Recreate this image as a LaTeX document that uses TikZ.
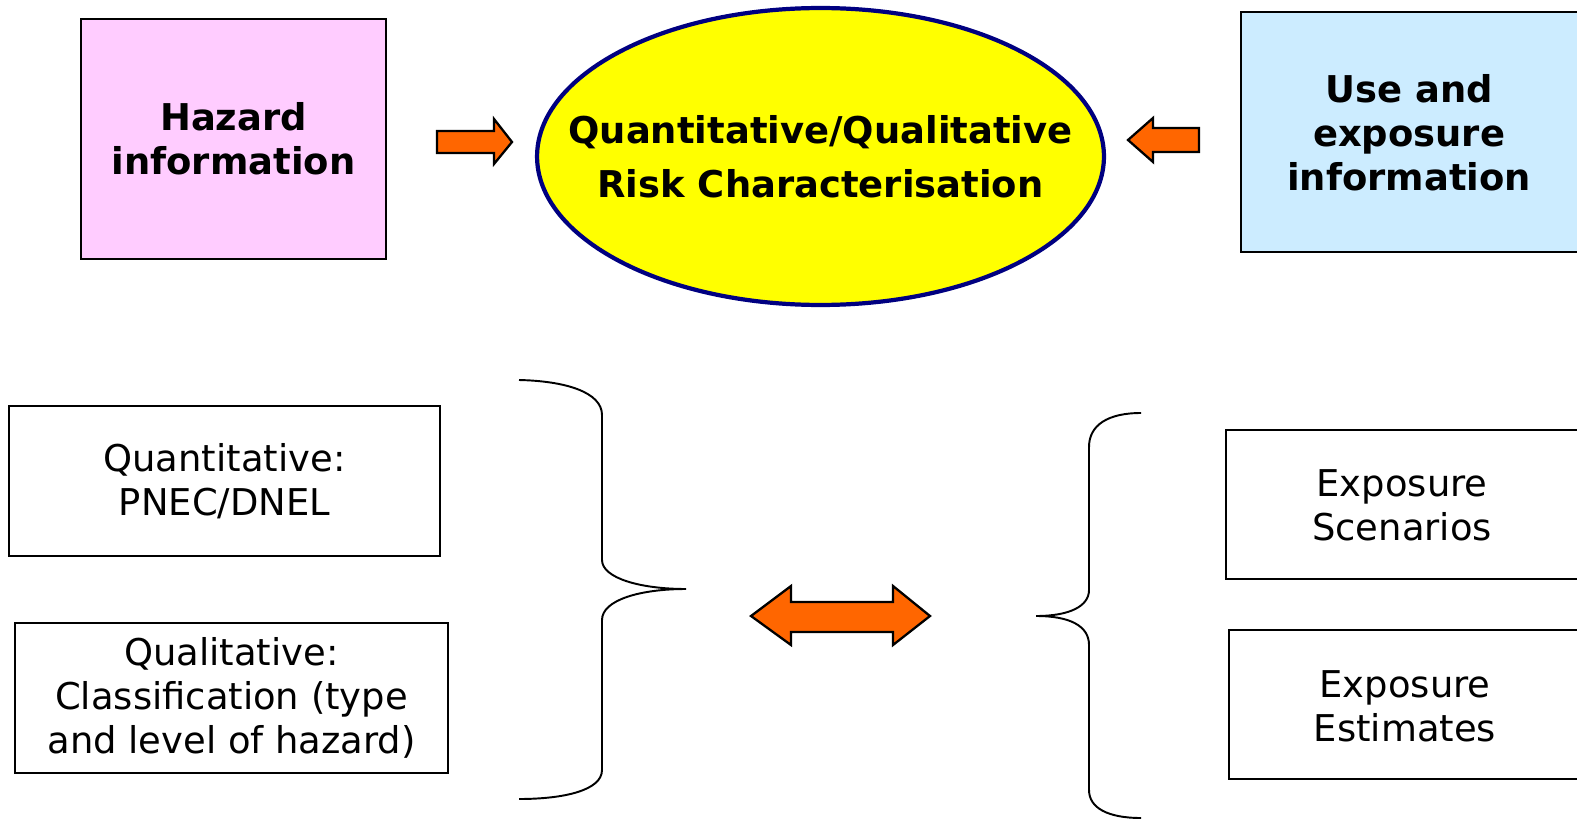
\documentclass[tikz,border=0pt]{standalone}
\usepackage{fontspec}
\setmainfont{DejaVu Sans}
\usetikzlibrary{shapes.geometric}
\definecolor{hazpink}{HTML}{FFCCFF}
\definecolor{usebl}{HTML}{CCECFF}
\definecolor{rcyell}{HTML}{FFFF00}
\definecolor{rcnavy}{HTML}{000080}
\definecolor{arrorange}{HTML}{FF6600}
\tikzset{
  topbox/.style={draw=black, line width=1.1pt, font=\fontsize{21}{25}\selectfont\bfseries, align=center, inner sep=0pt},
  lowbox/.style={draw=black, line width=1.1pt, align=center, inner sep=0pt},
  boxtext/.style={align=center, inner sep=0pt},
  blockarrow/.style={draw=black, fill=arrorange, line width=1.3pt, line join=miter},
  bracket/.style={draw=black, line width=1.1pt}
}
\begin{document}
\begin{tikzpicture}[x=0.02cm, y=-0.02cm, font=\fontsize{21}{25}\selectfont]
			%%%%% START %%%%%
			\useasboundingbox (0,0) rectangle (1577,824);
			
			% top row
			\node[topbox, fill=hazpink, minimum width=6.1cm, minimum height=4.8cm] (hazard) at (233.5,139) {Hazard\\information};
			\node[ellipse, draw=rcnavy, line width=2.4pt, fill=rcyell, minimum width=11.34cm, minimum height=5.94cm, inner sep=0pt] (rcshape) at (820.5,156.5) {};
			\node[boxtext, font=\fontsize{21}{31}\selectfont\bfseries] (riskchar) at (rcshape.center) {Quantitative/Qualitative\\Risk Characterisation};
			\draw[fill=usebl, line width=1.1pt] (1241,12) rectangle (1600,252);
			\node[boxtext, font=\fontsize{21}{25}\selectfont\bfseries] (useexp) at (1409,133) {Use and\\exposure\\information};
			
			\draw[blockarrow] (437,131) -- (494,131) -- (494,119) -- (512,142) -- (494,164) -- (494,153) -- (437,153) -- cycle;
			\draw[blockarrow] (1199,128) -- (1153,128) -- (1153,118) -- (1128,140) -- (1153,162) -- (1153,152) -- (1199,152) -- cycle;
			
			% lower row, hazard side
			\node[lowbox, minimum width=8.62cm, minimum height=3.0cm] (quant) at (224.5,481) {Quantitative:\\ PNEC/DNEL};
			\node[lowbox, minimum width=8.66cm, minimum height=3.0cm] (qual) at (231.5,698) {Qualitative:\\Classification (type\\and level of hazard)};
			
			\draw[bracket] (519,380) .. controls (565,381) and (602,392) .. (602,415) -- (602,560) .. controls (602,578) and (640,589) .. (686,589) .. controls (640,589) and (602,600) .. (602,620) -- (602,770) .. controls (602,790) and (565,799) .. (519,799);
			
			\draw[blockarrow] (751,616) -- (791,586) -- (791,602) -- (893,602) -- (893,586) -- (930,616) -- (893,645) -- (893,632) -- (791,632) -- (791,645) -- cycle;
			
			% lower row, exposure side
			\draw[bracket] (1141,413) .. controls (1108,413) and (1089,425) .. (1089,447) -- (1089,590) .. controls (1089,606) and (1070,616) .. (1036,616) .. controls (1070,616) and (1089,626) .. (1089,645) -- (1089,790) .. controls (1089,808) and (1108,818) .. (1141,818);
			
			\draw[line width=1.1pt] (1226,430) rectangle (1600,579);
			\node[boxtext] (scen) at (1402,505) {Exposure\\ Scenarios};
			\draw[line width=1.1pt] (1229,630) rectangle (1600,779);
			\node[boxtext] (estim) at (1405,706) {Exposure\\ Estimates};
			%%%%% END %%%%%
\end{tikzpicture}
\end{document}
